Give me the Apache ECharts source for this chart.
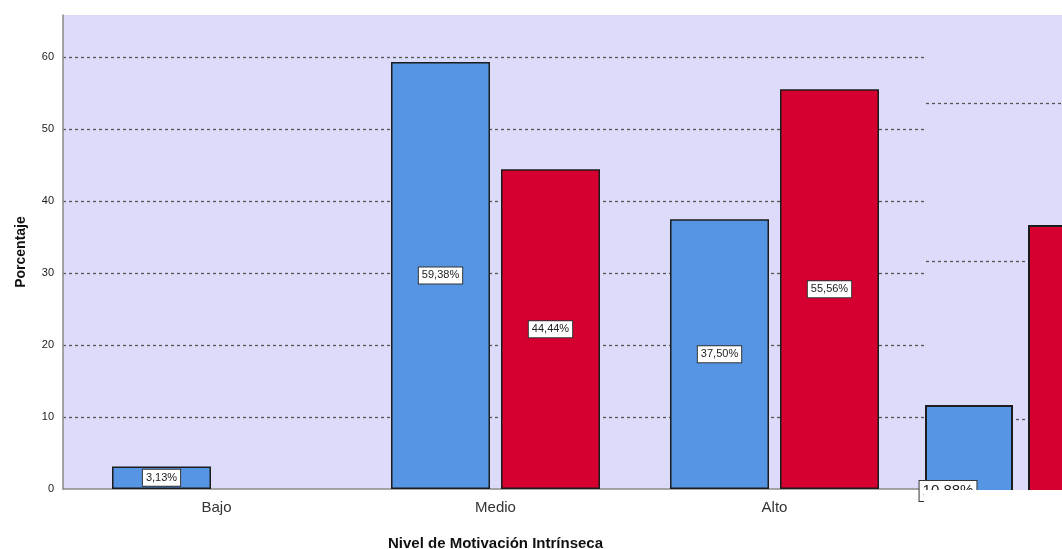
<!DOCTYPE html>
<html>
<head>
<meta charset="utf-8">
<script src="https://cdn.jsdelivr.net/npm/echarts@6/dist/echarts.min.js"></script>
<style>
  html, body { margin: 0; padding: 0; background: #ffffff; }
  #chart { width: 1062px; height: 549px; }
</style>
</head>
<body>
<div id="chart"></div>
<script>
// Categories and percentages per group
const categories = ['Bajo', 'Medio', 'Alto'];
const groupA = [3.13, 59.38, 37.50];
const groupB = [null, 44.44, 55.56];
const yTicks = [0, 10, 20, 30, 40, 50, 60];

// Values of the partly visible panel at the right edge
const sideCategories = [''];
const sideA = [10.88];
const sideB = [22.28];

const FONT = '"Liberation Sans", Arial, sans-serif';
const PLOT_BG = '#DCDCFA';
const BLUE = '#5595E4';
const RED = '#D5002F';
const EDGE = '#1c1c1c';

const pct = v => v.toFixed(2).replace('.', ',') + '%';

const labelBox = (size, pad) => ({
  show: true,
  position: 'inside',
  formatter: p => pct(p.value),
  fontFamily: FONT,
  fontSize: size,
  color: '#222',
  backgroundColor: '#ffffff',
  borderColor: '#333',
  borderWidth: 1,
  padding: pad
});

const dashed = { show: true, lineStyle: { color: '#555', width: 1.3, type: [3, 3] }, showMaxLine: false, showMinLine: false };

const chart = echarts.init(document.getElementById('chart'), null, { renderer: 'canvas' });
chart.setOption({
  animation: false,
  backgroundColor: '#ffffff',
  grid: [
    // plot frame with background, value axis and grid lines
    { left: 63, top: 15, width: 863, height: 474, show: true, backgroundColor: PLOT_BG, borderWidth: 0, outerBoundsMode: 'none' },
    // bars
    { left: 77, top: 15, width: 837, height: 474, outerBoundsMode: 'none' },
    // side panel, extends past the page edge
    { left: 926, top: 15, width: 189, height: 562, show: true, backgroundColor: PLOT_BG, borderWidth: 0, outerBoundsMode: 'none' }
  ],
  xAxis: [
    { gridIndex: 0, type: 'category', data: [''],
      axisLine: { show: true, lineStyle: { color: '#8a8a8a', width: 1.5 } },
      axisTick: { show: false }, axisLabel: { show: false }, splitLine: { show: false } },
    { gridIndex: 1, type: 'category', data: categories,
      axisLine: { show: false }, axisTick: { show: false },
      axisLabel: { fontFamily: FONT, fontSize: 15, color: '#333', margin: 11 },
      name: 'Nivel de Motivación Intrínseca', nameLocation: 'middle', nameGap: 47,
      nameTextStyle: { fontFamily: FONT, fontSize: 15, fontWeight: 'bold', color: '#111' } },
    { gridIndex: 2, type: 'category', data: sideCategories, show: false }
  ],
  yAxis: [
    { gridIndex: 0, type: 'value', min: yTicks[0], max: 65.9, interval: 10,
      axisLine: { show: true, lineStyle: { color: '#8a8a8a', width: 1.5 } },
      axisTick: { show: false },
      axisLabel: { fontFamily: FONT, fontSize: 11, color: '#222', margin: 9, showMaxLabel: false,
        formatter: v => (yTicks.indexOf(v) >= 0 ? String(v) : '') },
      splitLine: dashed,
      name: 'Porcentaje', nameLocation: 'middle', nameGap: 35,
      nameTextStyle: { fontFamily: FONT, fontSize: 14, fontWeight: 'bold', color: '#111' } },
    { gridIndex: 1, type: 'value', min: 0, max: 65.9, show: false, splitLine: { show: false } },
    { gridIndex: 2, type: 'value', min: 0, max: 35.57, interval: 10,
      axisLine: { show: false }, axisTick: { show: false }, axisLabel: { show: false },
      splitLine: dashed }
  ],
  series: [
    { type: 'bar', xAxisIndex: 1, yAxisIndex: 1, data: groupA,
      barWidth: 99, barGap: '11.1%',
      itemStyle: { color: BLUE, borderColor: EDGE, borderWidth: 1.5 },
      label: labelBox(11, [3, 3, 2, 3]) },
    { type: 'bar', xAxisIndex: 1, yAxisIndex: 1, data: groupB,
      barWidth: 99, barGap: '11.1%',
      itemStyle: { color: RED, borderColor: EDGE, borderWidth: 1.5 },
      label: labelBox(11, [3, 3, 2, 3]) },
    { type: 'bar', xAxisIndex: 2, yAxisIndex: 2, data: sideA, clip: true,
      barWidth: 135, barGap: '11.1%',
      itemStyle: { color: BLUE, borderColor: EDGE, borderWidth: 2 },
      // the bar is cut by the panel edge; keep its label near the full bar's centre
      label: Object.assign(labelBox(15, [3, 3, 2, 3]), { offset: [-21, 0] }) },
    { type: 'bar', xAxisIndex: 2, yAxisIndex: 2, data: sideB, clip: true,
      barWidth: 135, barGap: '11.1%',
      itemStyle: { color: RED, borderColor: EDGE, borderWidth: 2 },
      // its label sits beyond the page edge
      label: { show: false } }
  ],
  graphic: [
    // blank margin below the side panel
    { type: 'rect', z: 100, shape: { x: 924, y: 490, width: 138, height: 59 }, style: { fill: '#ffffff' } }
  ]
});
</script>
</body>
</html>
